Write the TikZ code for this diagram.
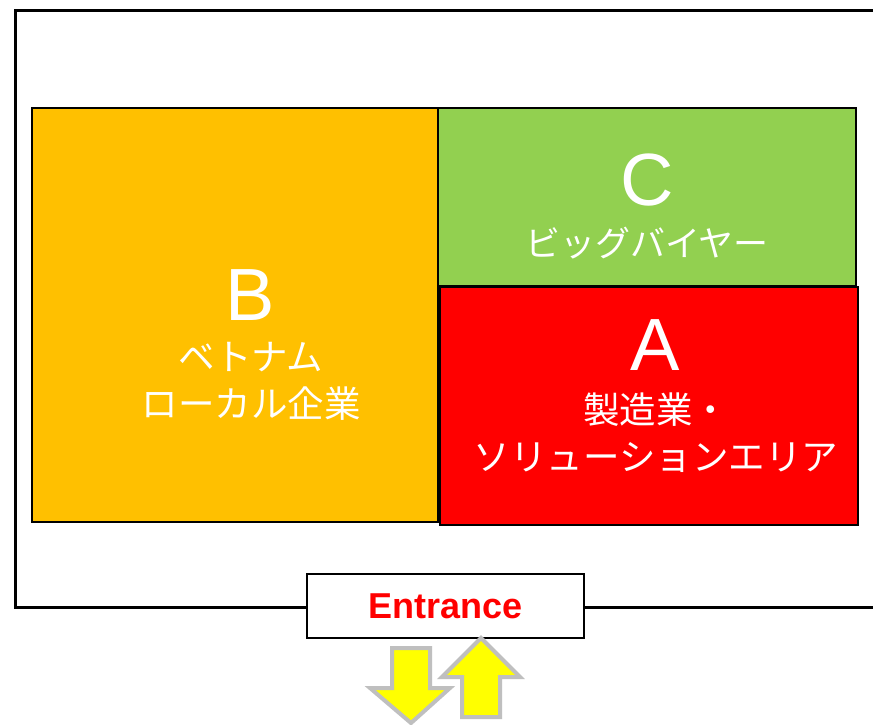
\documentclass[tikz,border=0pt]{standalone}
\usepackage{fontspec}
\setmainfont{Liberation Sans}
\newfontfamily\jp{Noto Sans CJK JP}
\definecolor{zoneB}{HTML}{FFC000}
\definecolor{zoneC}{HTML}{92D050}
\definecolor{zoneA}{HTML}{FF0000}
\definecolor{arrowgray}{HTML}{BFBFBF}
\definecolor{arrowfill}{HTML}{FFFF00}
\begin{document}
\begin{tikzpicture}[x=1pt,y=-1pt,
  zone/.style={draw=black,line width=1.5pt,inner sep=0pt,outer sep=0pt,anchor=north west},
  letter/.style={text=white,font=\fontsize{74}{74}\selectfont,inner sep=0pt},
  jtext/.style={text=white,font=\jp\fontsize{36.5}{47}\selectfont,align=center,inner sep=0pt},
  bigarrow/.style={fill=arrowfill,draw=arrowgray,line width=4pt,line join=miter}]
\useasboundingbox (0,0) rectangle (873,725);
\fill[white] (0,0) rectangle (873,725);
% outer frame
\draw[line width=3pt] (880,11) -- (15,11) -- (15,607) -- (880,607);
% zones
\node[zone,fill=zoneB,minimum width=406pt,minimum height=414pt] (B) at (32,108) {};
\node[zone,fill=zoneC,minimum width=418pt,minimum height=178pt] (C) at (438,108) {};
\node[zone,fill=zoneA,minimum width=418pt,minimum height=238pt] (A) at (440,287) {};
% labels
\node[letter] (Bl) at (250,295) {B};
\node[jtext] (Bt) at (251,381) {ベトナム\\ローカル企業};
\node[letter] (Cl) at (647,180) {C};
\node[jtext,font=\jp\fontsize{35}{47}\selectfont] (Ct) at (647,243) {ビッグバイヤー};
\node[letter] (Al) at (655,345) {A};
\node[jtext] (At) at (656,433) {製造業・\\ソリューションエリア};
% entrance
\node[draw=black,line width=1.5pt,fill=white,minimum width=277pt,minimum height=64pt,inner sep=0pt,
  text=red,font=\bfseries\fontsize{36}{36}\selectfont] (E) at (445.5,606) {Entrance};
% arrows
\draw[bigarrow] (392,648) -- (430,648) -- (430,688) -- (450,688) -- (411,723) -- (370,688) -- (392,688) -- cycle;
\draw[bigarrow] (481,638) -- (520,677) -- (500,677) -- (500,717) -- (462,717) -- (462,677) -- (442,677) -- cycle;
\end{tikzpicture}
\end{document}
